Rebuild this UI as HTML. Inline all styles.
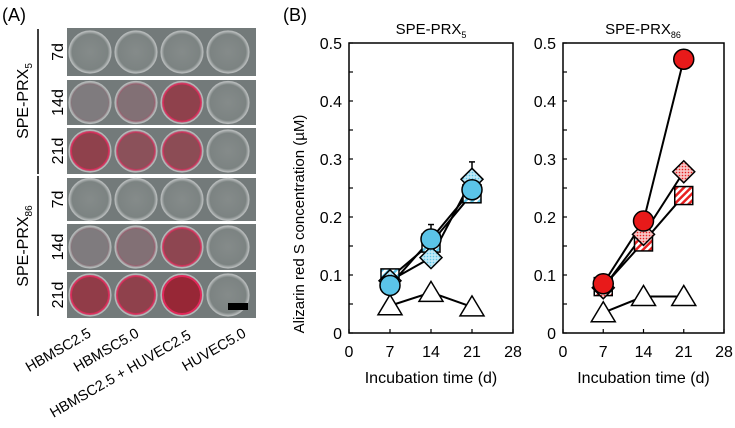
<!DOCTYPE html>
<html><head><meta charset="utf-8"><style>
body{margin:0;background:#fff;width:735px;height:428px;overflow:hidden;font-family:"Liberation Sans",Arial,sans-serif}
svg{display:block}
</style></head><body>
<svg width="735" height="428" viewBox="0 0 735 428" font-family="Liberation Sans, Arial, sans-serif">
<defs>
<pattern id="hb" width="5" height="5" patternUnits="userSpaceOnUse" patternTransform="rotate(45)"><rect width="5" height="5" fill="#fff"/><rect width="2.5" height="5" fill="#5bc4e8"/></pattern>
<pattern id="hr" width="5" height="5" patternUnits="userSpaceOnUse" patternTransform="rotate(45)"><rect width="5" height="5" fill="#fff"/><rect width="2.5" height="5" fill="#e82020"/></pattern>
<pattern id="db" width="3" height="3" patternUnits="userSpaceOnUse"><rect width="3" height="3" fill="#bfe8f6"/><circle cx="1.5" cy="1.5" r="0.8" fill="#5bc4e8"/></pattern>
<pattern id="dr" width="3" height="3" patternUnits="userSpaceOnUse"><rect width="3" height="3" fill="#f7c4c4"/><circle cx="1.5" cy="1.5" r="0.8" fill="#e82020"/></pattern>
<radialGradient id="wg" cx="50%" cy="50%" r="50%"><stop offset="0" stop-color="#858b8a"/><stop offset="0.85" stop-color="#7c8382"/><stop offset="1" stop-color="#b8bcbc"/></radialGradient>
</defs>
<text x="2" y="21" font-size="18">(A)</text>
<text x="283" y="21" font-size="18">(B)</text>
<g id="photo"></g>
<g id="charts"></g>
</svg>
<script>
const rowsY=[[28,76],[80,125],[128,174],[178,221],[224,270],[272,318]];
const rowLabels=['7d','14d','21d','7d','14d','21d'];
const stain=[[0,0,0,0],[0.05,0.15,0.6,0],[0.6,0.45,0.5,0],[0,0,0,0],[0.05,0.15,0.55,0],[0.65,0.6,0.85,0]];
const ns='http://www.w3.org/2000/svg';
const ph=document.getElementById('photo');
function mk(t,a,p){const e=document.createElementNS(ns,t);for(const k in a)e.setAttribute(k,a[k]);(p||ph).appendChild(e);return e;}
rowsY.forEach((r,i)=>{
  const g=mk('g',{});
  
  
  mk('rect',{x:67,y:r[0],width:189,height:r[1]-r[0],fill:'#737a7a'},g);
  const cy=(r[0]+r[1])/2;
  [90,136,182,228].forEach((cx,j)=>{
    const s=stain[i][j];
    mk('circle',{cx:cx,cy:cy,r:21,fill:'url(#wg)',stroke:'#b4b8b8','stroke-width':1.2},g);
    if(s>0){
      const c=`rgb(${Math.round(125+30*s)},${Math.round(128-105*s)},${Math.round(130-90*s)})`;
      mk('circle',{cx:cx,cy:cy,r:19,fill:c,stroke:`rgba(225,40,90,${Math.min(1,s*1.3)})`,'stroke-width':2},g);
    }
  });
  const t=mk('text',{x:0,y:0,'font-size':16,'text-anchor':'middle',transform:`translate(63,${cy}) rotate(-90)`},g);
  t.textContent=rowLabels[i];
});
mk('rect',{x:228,y:303,width:20,height:7,fill:'#000'});
mk('line',{x1:38,y1:29,x2:38,y2:174,stroke:'#000','stroke-width':1.5});
mk('line',{x1:38,y1:176,x2:38,y2:316,stroke:'#000','stroke-width':1.5});
ph.insertAdjacentHTML('beforeend','<text font-size="16" text-anchor="middle" transform="translate(28,101) rotate(-90)">SPE-PRX<tspan font-size="10" dy="4">5</tspan></text><text font-size="16" text-anchor="middle" transform="translate(28,246) rotate(-90)">SPE-PRX<tspan font-size="10" dy="4">86</tspan></text>');
const colLabels=['HBMSC2.5','HBMSC5.0','HBMSC2.5 + HUVEC2.5','HUVEC5.0'];
const colAnchor=[[92,336],[140,336],[192,338],[247,336]];
colLabels.forEach((l,i)=>{
  const t=mk('text',{'font-size':14.5,'text-anchor':'end',transform:`translate(${colAnchor[i][0]},${colAnchor[i][1]}) rotate(-30)`});
  
  
  t.textContent=l;
});

const days=[7,14,21];
const xTicks=[0,7,14,21,28];
const yTicks=[0,0.1,0.2,0.3,0.4,0.5];
const prx5_hbmsc25=[0.095,0.155,0.24];
const prx5_hbmsc50=[0.09,0.13,0.265];
const prx5_cocult=[0.082,0.162,0.247];
const prx5_huvec=[0.047,0.07,0.045];
const prx5_err=[0.01,0.025,0.03];
const prx86_hbmsc25=[0.08,0.157,0.237];
const prx86_hbmsc50=[0.078,0.17,0.278];
const prx86_cocult=[0.085,0.193,0.472];
const prx86_huvec=[0.035,0.063,0.063];

const ch=document.getElementById('charts');
function chart(x0,x1,title,sq,dm,ci,tr,sqFill,dmFill,ciFill,err,nm){
  const y0=333,y1=43;
  const X=v=>x0+(v/28)*(x1-x0), Y=v=>y0-(v/0.5)*(y0-y1);
  const g=mk('g',{},ch);
  
  
  mk('rect',{x:x0,y:y1,width:x1-x0,height:y0-y1,fill:'none',stroke:'#000','stroke-width':1.5},g);
  for(let v=0;v<=0.5001;v+=0.05){mk('line',{x1:x0,x2:x0+4,y1:Y(v),y2:Y(v),stroke:'#000','stroke-width':1.2},g);}
  yTicks.forEach(v=>{const t=mk('text',{x:x0-7,y:Y(v)+6,'font-size':16,'text-anchor':'end'},g);t.textContent=v===0?'0':v.toFixed(1);});
  xTicks.forEach(v=>{mk('line',{x1:X(v),x2:X(v),y1:y0,y2:y0-4,stroke:'#000','stroke-width':1.2},g);const t=mk('text',{x:X(v),y:y0+24,'font-size':16,'text-anchor':'middle'},g);t.textContent=v;});
  const xt=mk('text',{x:(x0+x1)/2,y:383,'font-size':16,'text-anchor':'middle'},g);
  
  xt.textContent='Incubation time (d)';
  g.insertAdjacentHTML('beforeend',title);
  const line=(arr)=>{mk('polyline',{points:arr.map((v,i)=>X(days[i])+','+Y(v)).join(' '),fill:'none',stroke:'#000','stroke-width':2},g);};
  [tr,sq,dm,ci].forEach(line);
  if(err){ci.forEach((v,i)=>{const yy=Y(Math.max(v,dm[i])+err[i]);mk('line',{x1:X(days[i]),x2:X(days[i]),y1:yy,y2:Y(v),stroke:'#000','stroke-width':1.5},g);mk('line',{x1:X(days[i])-3,x2:X(days[i])+3,y1:yy,y2:yy,stroke:'#000','stroke-width':1.5},g);});}
  tr.forEach((v,i)=>{const cx=X(days[i]),cy=Y(v);const p=mk('polygon',{points:`${cx},${cy-11} ${cx-12},${cy+9} ${cx+12},${cy+9}`,fill:'#fff',stroke:'#000','stroke-width':1.5},g);});
  sq.forEach((v,i)=>{const cx=X(days[i]),cy=Y(v);const p=mk('rect',{x:cx-9,y:cy-9,width:18,height:18,fill:sqFill,stroke:'#000','stroke-width':1.5},g);});
  dm.forEach((v,i)=>{const cx=X(days[i]),cy=Y(v);const p=mk('polygon',{points:`${cx},${cy-11} ${cx+11},${cy} ${cx},${cy+11} ${cx-11},${cy}`,fill:dmFill,stroke:'#000','stroke-width':1.5},g);});
  ci.forEach((v,i)=>{const p=mk('circle',{cx:X(days[i]),cy:Y(v),r:10,fill:ciFill,stroke:'#000','stroke-width':1.5},g);});
}
chart(349,513,'<text x="431" y="34" font-size="15" text-anchor="middle">SPE-PRX<tspan font-size="9" dy="4">5</tspan></text>',prx5_hbmsc25,prx5_hbmsc50,prx5_cocult,prx5_huvec,'url(#hb)','url(#db)','#5bc4e8',prx5_err,'chart-prx5');
chart(563,724,'<text x="643" y="34" font-size="15" text-anchor="middle">SPE-PRX<tspan font-size="9" dy="4">86</tspan></text>',prx86_hbmsc25,prx86_hbmsc50,prx86_cocult,prx86_huvec,'url(#hr)','url(#dr)','#e81a1a',null,'chart-prx86');
ch.insertAdjacentHTML('beforeend','<text font-size="15" text-anchor="middle" transform="translate(304,224) rotate(-90)">Alizarin red S concentration (µM)</text>');
</script>
</body></html>
